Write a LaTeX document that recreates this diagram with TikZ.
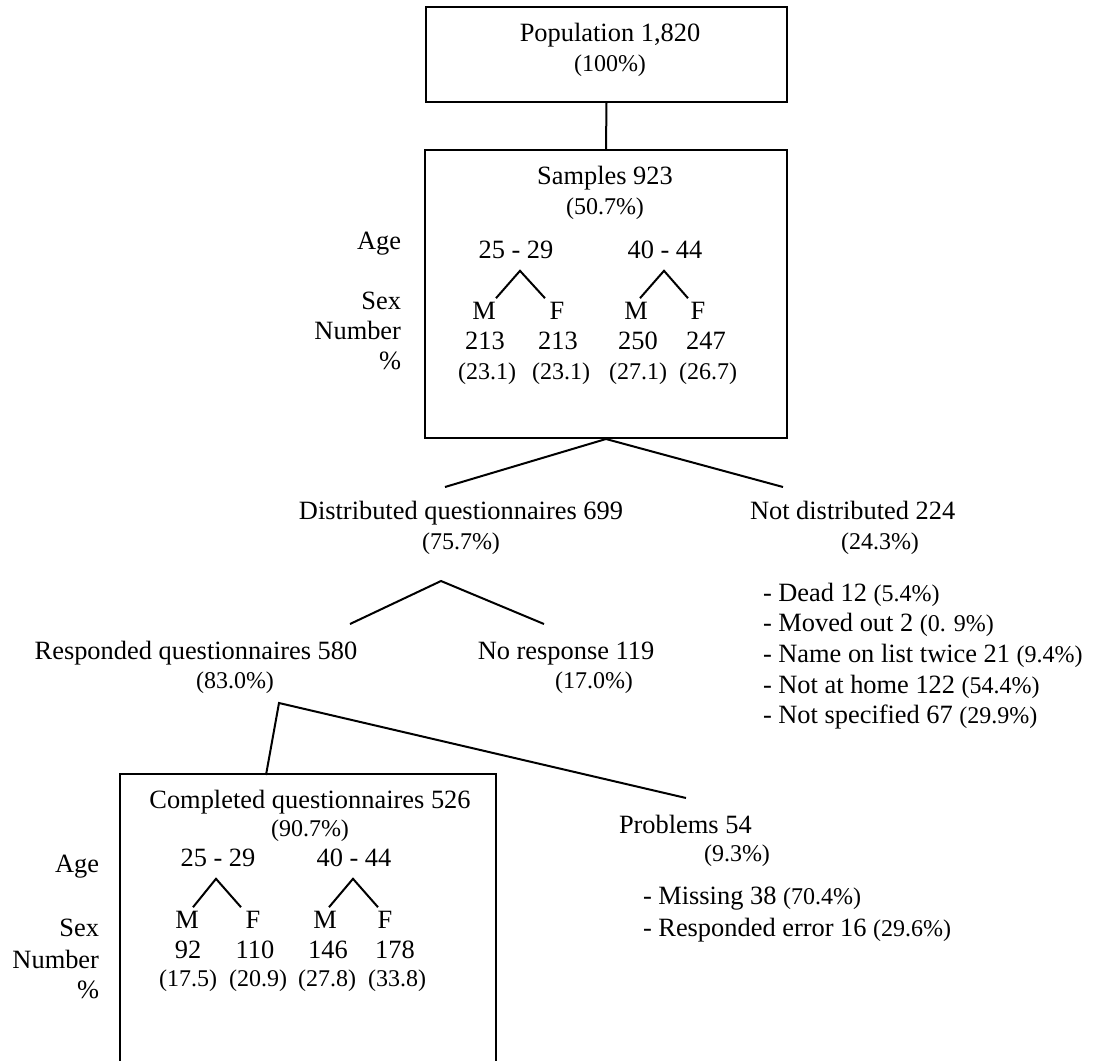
\documentclass[tikz,border=0pt]{standalone}
\usepackage{fontspec}
\setmainfont{Liberation Serif}
\usepackage{tikz}
\usetikzlibrary{calc}
\newcommand{\pctsize}{\fontsize{12pt}{14pt}\selectfont}
\tikzset{
  font={\fontsize{13.2pt}{15pt}\selectfont},
  every node/.style={inner sep=0pt, text height=0.68em, text depth=0pt},
  pct/.style={font=\pctsize},
  box/.style={draw, line width=1pt}}

\begin{document}
\begin{tikzpicture}[x=0.5pt,y=-0.5pt,line width=1pt]
\useasboundingbox (0,0) rectangle (1100,1061);
% population and samples
\node[box,minimum width=180.5pt,minimum height=47.5pt] (pop) at (606.5,54.5) {};
\node (poptxt) at (610,35) {Population 1,820};
\node[pct] (poppct) at (610,65) {(100\%)};
\node[box,minimum width=181pt,minimum height=144pt] (smp) at (606,294) {};
\node (smptxt) at (605,178) {Samples 923};
\node[pct] (smppct) at (605,208) {(50.7\%)};
\draw (pop.south) -- (smp.north);
\node[anchor=east] (sage) at (402,243) {Age};
\node[anchor=east] (ssex) at (402,303) {Sex};
\node[anchor=east] (snum) at (402,333) {Number};
\node[anchor=east] (sper) at (402,363) {\%};
\node (sa1) at (516,252) {25 - 29};
\node (sa2) at (665,252) {40 - 44};
\node (sm1) at (484,313) {M};
\node (sf1) at (557,313) {F};
\node (sm2) at (636,313) {M};
\node (sf2) at (698,313) {F};
\node (sn1) at (485,343) {213};
\node (sn2) at (558,343) {213};
\node (sn3) at (638,343) {250};
\node (sn4) at (706,343) {247};
\node[pct] (sp1) at (487,373) {(23.1)};
\node[pct] (sp2) at (561,373) {(23.1)};
\node[pct] (sp3) at (638,373) {(27.1)};
\node[pct] (sp4) at (708,373) {(26.7)};
\draw ($(sm1.north)+(12,-7)$) -- ($(sa1.south)+(4,11)$) -- ($(sf1.north)+(-12,-7)$);
\draw ($(sm2.north)+(4,-7)$) -- ($(sa2.south)+(-1,11)$) -- ($(sf2.north)+(-10,-7)$);
% distributed or not
\coordinate (dqtop) at (445,487);
\coordinate (ndtop) at (783,487);
\draw (dqtop) -- (smp.south) -- (ndtop);
\node (dqtxt) at (461,513) {Distributed questionnaires 699};
\node[pct] (dqpct) at (461,543) {(75.7\%)};
\node[anchor=west] (ndtxt) at (749,513) {Not distributed 224};
\node[pct] (ndpct) at (880,543) {(24.3\%)};
\node[anchor=west] (nd1) at (762,595) {- Dead 12 {\pctsize (5.4\%)}};
\node[anchor=west] (nd2) at (762,625) {- Moved out 2 {\pctsize (0. 9\%)}};
\node[anchor=west] (nd3) at (762,656) {- Name on list twice 21 {\pctsize (9.4\%)}};
\node[anchor=west] (nd4) at (762,687) {- Not at home 122 {\pctsize (54.4\%)}};
\node[anchor=west] (nd5) at (762,717) {- Not specified 67 {\pctsize (29.9\%)}};
% responded or not
\coordinate (dqfork) at (441,581);
\coordinate (rqtop) at (350,624);
\coordinate (nrtop) at (544,624);
\draw (rqtop) -- (dqfork) -- (nrtop);
\node (rqtxt) at (196,653) {Responded questionnaires 580};
\node[pct] (rqpct) at (235,682) {(83.0\%)};
\node (nrtxt) at (566,653) {No response 119};
\node[pct] (nrpct) at (594,682) {(17.0\%)};
% completed and problems
\node[minimum width=187pt,minimum height=143pt] (cqbox) at (308,918) {};
\draw (cqbox.south west) -- (cqbox.north west) -- (cqbox.north east) -- (cqbox.south east);
\coordinate (rqfork) at (279,703);
\coordinate (cqtop) at (266,775);
\coordinate (prtop) at (686,798);
\draw (cqtop) -- (rqfork) -- (prtop);
\node (cqtxt) at (310,802) {Completed questionnaires 526};
\node[pct] (cqpct) at (310,830) {(90.7\%)};
\node[anchor=east] (cage) at (100,866) {Age};
\node[anchor=east] (csex) at (100,930) {Sex};
\node[anchor=east] (cnum) at (100,962) {Number};
\node[anchor=east] (cper) at (100,992) {\%};
\node (ca1) at (218,860) {25 - 29};
\node (ca2) at (354,860) {40 - 44};
\node (cm1) at (187,922) {M};
\node (cf1) at (253,922) {F};
\node (cm2) at (325,922) {M};
\node (cf2) at (385,922) {F};
\node (cn1) at (188,952) {92};
\node (cn2) at (255,952) {110};
\node (cn3) at (328,952) {146};
\node (cn4) at (395,952) {178};
\node[pct] (cp1) at (188,980) {(17.5)};
\node[pct] (cp2) at (258,980) {(20.9)};
\node[pct] (cp3) at (327,980) {(27.8)};
\node[pct] (cp4) at (397,980) {(33.8)};
\draw ($(cm1.north)+(6,-7)$) -- ($(ca1.south)+(-2,11)$) -- ($(cf1.north)+(-12,-7)$);
\draw ($(cm2.north)+(4,-7)$) -- ($(ca2.south)+(-1,11)$) -- ($(cf2.north)+(-7,-7)$);
\node[anchor=west] (prtxt) at (618,827) {Problems 54};
\node[pct] (prpct) at (737,855) {(9.3\%)};
\node[anchor=west] (pr1) at (642,898) {- Missing 38 {\pctsize (70.4\%)}};
\node[anchor=west] (pr2) at (642,930) {- Responded error 16 {\pctsize (29.6\%)}};
\end{tikzpicture}
\end{document}
